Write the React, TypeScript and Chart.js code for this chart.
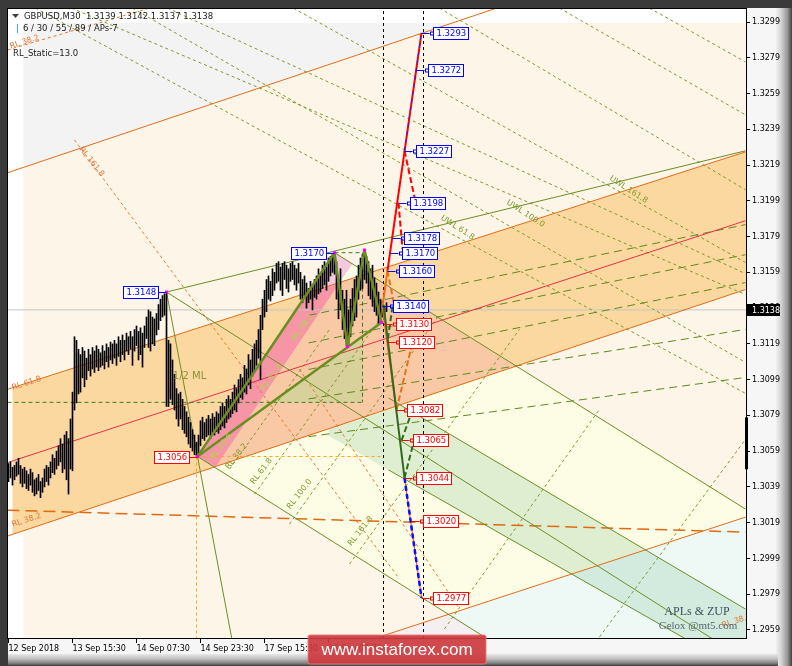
import React, { useEffect, useRef } from 'react';
import { Chart, registerables } from 'chart.js';

Chart.register(...registerables);

type Pt = [number, number];

// ---------------- axis values ----------------
const timeTickIndex = [0, 32, 64, 96, 128, 160];
const timeTickLabels = ['12 Sep 2018', '13 Sep 15:30', '14 Sep 07:30', '14 Sep 23:30', '17 Sep 15:30', '18 Sep 07:30'];
const priceTicks = [1.2959, 1.2979, 1.2999, 1.3019, 1.3039, 1.3059, 1.3079, 1.3099, 1.3119, 1.3139, 1.3159, 1.3179, 1.3199, 1.3219, 1.3239, 1.3259, 1.3279, 1.3299];
const xMin = -0.25;
const xMax = 368.75;
const yMin = 1.29545;
const yMax = 1.33063;

// ---------------- quote ----------------
const symbol = 'GBPUSD,M30';
const quoteOHLC = [1.3139, 1.3142, 1.3137, 1.3138];
const currentPrice = 1.3138;

// ---------------- M30 bars (pips) ----------------
const barHighPips = [
  13052, 13053, 13050, 13051, 13053, 13055, 13051, 13049, 13050, 13048,
  13046, 13049, 13047, 13043, 13044, 13046, 13042, 13044, 13049, 13051,
  13050, 13053, 13057, 13055, 13059, 13062, 13066, 13063, 13068, 13070,
  13066, 13077, 13092, 13123, 13121, 13116, 13113, 13117, 13115, 13111,
  13116, 13113, 13117, 13115, 13118, 13116, 13114, 13118, 13115, 13119,
  13117, 13120, 13119, 13121, 13119, 13123, 13121, 13124, 13121, 13125,
  13123, 13126, 13123, 13127, 13129, 13126, 13128, 13125, 13129, 13134,
  13138, 13137, 13134, 13133, 13136, 13141, 13144, 13146, 13147, 13148,
  13121, 13119, 13110, 13102, 13094, 13091, 13092, 13088, 13084, 13081,
  13078, 13075, 13071, 13068, 13064, 13068, 13076, 13078, 13075, 13077,
  13079, 13077, 13080, 13078, 13081, 13080, 13084, 13086, 13084, 13088,
  13090, 13088, 13092, 13096, 13094, 13099, 13102, 13100, 13107, 13105,
  13113, 13110, 13116, 13119, 13121, 13127, 13135, 13144, 13149, 13155,
  13157, 13154, 13161, 13159, 13164, 13165, 13162, 13164, 13165, 13163,
  13161, 13164, 13165, 13163, 13161, 13164, 13159, 13155, 13157, 13153,
  13150, 13154, 13152, 13155, 13157, 13161, 13158, 13163, 13165, 13162,
  13167, 13168, 13169, 13170, 13165, 13155, 13161, 13149, 13144, 13149,
  13138, 13144, 13150, 13155, 13157, 13163, 13167, 13169, 13171, 13168,
  13165, 13161, 13163, 13156, 13153, 13148, 13144, 13143, 13140, 13142,
];
const barLowPips = [
  13042, 13044, 13040, 13043, 13045, 13046, 13041, 13039, 13041, 13038,
  13037, 13040, 13036, 13034, 13035, 13037, 13033, 13036, 13039, 13042,
  13040, 13044, 13047, 13046, 13049, 13051, 13053, 13047, 13049, 13043,
  13035, 13049, 13048, 13082, 13086, 13091, 13092, 13100, 13095, 13099,
  13104, 13101, 13105, 13103, 13106, 13104, 13106, 13107, 13105, 13109,
  13106, 13110, 13108, 13111, 13107, 13112, 13109, 13113, 13110, 13115,
  13113, 13116, 13107, 13115, 13118, 13110, 13113, 13106, 13117, 13122,
  13117, 13115, 13119, 13118, 13124, 13127, 13132, 13134, 13135, 13084,
  13084, 13088, 13085, 13082, 13077, 13073, 13077, 13071, 13069, 13067,
  13063, 13061, 13059, 13057, 13056, 13058, 13062, 13066, 13065, 13067,
  13068, 13066, 13069, 13068, 13070, 13069, 13071, 13073, 13072, 13075,
  13077, 13078, 13080, 13082, 13081, 13086, 13089, 13088, 13092, 13091,
  13096, 13094, 13101, 13104, 13107, 13111, 13099, 13127, 13134, 13137,
  13144, 13143, 13146, 13149, 13153, 13154, 13149, 13146, 13155, 13150,
  13148, 13154, 13155, 13152, 13149, 13153, 13144, 13142, 13146, 13139,
  13142, 13144, 13138, 13145, 13144, 13147, 13148, 13150, 13152, 13149,
  13154, 13157, 13159, 13158, 13144, 13133, 13138, 13127, 13122, 13118,
  13118, 13123, 13129, 13132, 13134, 13144, 13149, 13150, 13155, 13153,
  13146, 13144, 13140, 13137, 13135, 13130, 13131, 13134, 13135, 13137,
];

// ---------------- swing pivots (bar index, price) ----------------
const pivotA: Pt = [79, 1.3148];
const pivotB: Pt = [94.5, 1.3056];
const pivotC: Pt = [163, 1.317];
const pivotD: Pt = [169.5, 1.31175];
const pivotE: Pt = [178, 1.31715];
const pivotF: Pt = [186.5, 1.3131];

// ---------------- channel lines ----------------
const channelTop: Pt[] = [[-0.5, 1.32147], [244, 1.33068]];
const bandUpper: Pt[] = [[-0.5, 1.30936], [368.5, 1.32264]];
const bandMid: Pt[] = [[-0.5, 1.30526], [368.5, 1.31879]];
const bandLower: Pt[] = [[-0.5, 1.30115], [368.5, 1.31494]];
const channelBottom: Pt[] = [[185.5, 1.29551], [368.5, 1.30221]];
const level382: Pt[] = [[-0.5, 1.3026], [368.5, 1.30137]];

// ---------------- pitchfork ----------------
const handleLine: Pt[] = [pivotA, [368.5, 1.3227]];
const handleDrop: Pt[] = [pivotA, pivotB];
const medianLine: Pt[] = [pivotA, [368.5, 1.29423]];
const upperTine: Pt[] = [pivotC, [368.5, 1.30266]];
const lowerTine: Pt[] = [pivotB, [368.5, 1.28633]];
const warnUpper: Pt[] = [[205.5, 1.30785], [368.5, 1.29707]];
const warnLower: Pt[] = [[195.5, 1.3045], [368.5, 1.2935]];
const boxLow = 1.30863;
const boxRightT = 177;

// ---------------- fan / reaction lines ----------------
const fanUpper: Pt[][] = [
  [[13.5, 1.33068], [368.5, 1.30913]],
  [[31.5, 1.33068], [368.5, 1.31466]],
  [[62, 1.33068], [368.5, 1.31086]],
  [[79.5, 1.33068], [368.5, 1.31583]],
  [[142.5, 1.33068], [368.5, 1.31645]],
  [[215.5, 1.33068], [368.5, 1.32052]],
  [[275.5, 1.33068], [368.5, 1.32471]],
  [[320.5, 1.33068], [368.5, 1.32767]],
];
const fanBand: Pt[][] = [
  [[195.5, 1.31455], [368.5, 1.31857]],
  [[195.5, 1.31298], [368.5, 1.31689]],
  [[195.5, 1.31148], [368.5, 1.31533]],
  [[195.5, 1.30963], [368.5, 1.31271]],
  [[195.5, 1.3074], [368.5, 1.31002]],
];
const fanSteep: Pt[][] = [
  [[110.5, 1.30489], [160.5, 1.31271]],
  [[123, 1.30349], [185.5, 1.31326]],
  [[140.5, 1.30182], [215.5, 1.31354]],
  [[170.5, 1.29959], [255.5, 1.31271]],
  [[218, 1.29596], [295.5, 1.30824]],
  [[295.5, 1.29551], [368.5, 1.30656]],
];
const fanOrange: Pt[][] = [
  [[33, 1.32331], [195.5, 1.29875]],
  [[145.5, 1.31047], [225.5, 1.29707]],
  [[-0.5, 1.32834], [70.5, 1.33068]],
];

// ---------------- ZUP projection levels ----------------
const projTimes = [206.5, 204, 198, 195, 192, 191, 189.5, 187, 188, 189.5, 194, 196.5, 198, 201.5, 206.5];
const projPrices = [1.3293, 1.3272, 1.3227, 1.3198, 1.3178, 1.317, 1.316, 1.314, 1.313, 1.312, 1.3082, 1.3065, 1.3044, 1.302, 1.2977];
const sessionMarks = [187.5, 207.5];

const P = (price: number): Pt => [projTimes[projPrices.indexOf(price)], price];

const swingOrange: Pt[][] = [[P(1.314), P(1.316)], [P(1.314), P(1.3082)]];
const swingOrangeDash: Pt[][] = [[P(1.316), [193, 1.314]], [P(1.3082), [202, 1.312]]];
const swingGreen: Pt[][] = [[[187.5, 1.3141], P(1.3044)]];
const swingGreenDash: Pt[][] = [[P(1.3065), [202, 1.3082]], [P(1.3044), [203, 1.3066]], [[192, 1.314], P(1.312)]];
const swingRed: Pt[][] = [[P(1.316), P(1.3293)]];
const swingRedDash: Pt[][] = [[P(1.3227), [203, 1.3201]], [P(1.3198), [197, 1.3172]]];
const swingBlue: Pt[][] = [[P(1.3044), P(1.2977)]];

// ---------------- annotations ----------------
const notes = [
  { text: 'UWL 61.8', t: 224.5, p: 1.3184, angle: 33, color: '#7d9a2c' },
  { text: 'UWL 100.0', t: 258.5, p: 1.31918, angle: 33, color: '#7d9a2c' },
  { text: 'UWL 161.8', t: 310, p: 1.32052, angle: 33, color: '#7d9a2c' },
  { text: 'RL 38.2', t: 114, p: 1.30561, angle: -52, color: '#7d9a2c' },
  { text: 'RL 61.8', t: 126.5, p: 1.30478, angle: -52, color: '#7d9a2c' },
  { text: 'RL 100.0', t: 145.5, p: 1.30349, angle: -52, color: '#7d9a2c' },
  { text: 'RL 161.8', t: 176, p: 1.30143, angle: -52, color: '#7d9a2c' },
  { text: 'RL 23.6', t: 106.5, p: 1.30617, angle: -52, color: '#b2d846' },
  { text: 'RL 61.8', t: 131.5, p: 1.31002, angle: -52, color: '#b2d846' },
  { text: 'RL 38.2', t: 147, p: 1.31282, angle: -52, color: '#b2d846' },
  { text: 'RL 161.8', t: 41.5, p: 1.32208, angle: 52, color: '#e0783a' },
  { text: 'RL 61.8', t: 9, p: 1.30969, angle: -18, color: '#e0783a' },
  { text: 'RL 38.2', t: 9, p: 1.30204, angle: -18, color: '#e0783a' },
  { text: 'RL 38.2', t: 8, p: 1.32878, angle: -18, color: '#e0783a' },
  { text: 'RL 38.2', t: 364, p: 1.2964, angle: -18, color: '#e0783a' },
];
const halfML = { text: '1/2 ML', t: 90.5, p: 1.31008 };
const pivotLabels: { pt: Pt; color: string }[] = [
  { pt: pivotA, color: '#0000ff' },
  { pt: pivotC, color: '#0000ff' },
  { pt: pivotB, color: '#ff0000' },
];
const edgeBar: Pt = [1.30779, 1.30489];

const COLORS = {
  cream: '#fdf5e8',
  gray: '#f3f3f3',
  yellow: '#fdfde5',
  cyan: '#eef9f6',
  lavender: '#f6eff1',
  green: 'rgba(120,185,140,0.22)',
  band: '#fbd89f',
  salmon: '#f9c9a6',
  pinkLight: '#f4c8df',
  pinkDeep: '#f595a6',
  khaki: '#d9d19c',
  olive: '#6b8e23',
  orange: '#e36c17',
};

const at = (l: Pt[], t: number) => l[0][1] + ((l[1][1] - l[0][1]) * (t - l[0][0])) / (l[1][0] - l[0][0]);
const span = (l: Pt[], t0: number, t1: number): Pt[] => [[t0, at(l, t0)], [t1, at(l, t1)]];
const between = (a: Pt[], b: Pt[], t0: number, t1: number): Pt[] => [[t0, at(a, t0)], [t1, at(a, t1)], [t1, at(b, t1)], [t0, at(b, t0)]];
const sky: Pt[] = [[0, 1.4], [1, 1.4]];
const ground: Pt[] = [[0, 1.25], [1, 1.25]];
const shadeStart: Pt = [7.5, 1.32985];
const bandStartT = 2;

export default function App() {
  const ref = useRef<HTMLCanvasElement>(null);

  useEffect(() => {
    document.body.style.margin = '0';
    document.body.style.overflow = 'hidden';

    const datasets: any[] = [];
    const addLine = (pts: Pt[], color: string, width: number, dash: number[] = []) =>
      datasets.push({
        type: 'line',
        data: pts.map(([x, y]) => ({ x, y })),
        borderColor: color,
        borderWidth: width,
        borderDash: dash,
        pointRadius: 0,
        pointHoverRadius: 0,
        fill: false,
        tension: 0,
        borderCapStyle: 'butt',
      });

    addLine([[xMin, currentPrice], [xMax, currentPrice]], '#c4c4c4', 1);
    fanOrange.forEach((l) => addLine(l, '#e8782a', 1, [3, 3]));
    fanUpper.forEach((l) => addLine(l, '#7a9a28', 1, [3, 3]));
    fanSteep.forEach((l) => addLine(l, '#7a9a28', 1, [3, 3]));
    fanBand.forEach((l) => addLine(span(l, 150, 368.5), '#5f8a1e', 1, [8, 5]));

    addLine(span(channelTop, -0.5, 260), COLORS.orange, 1);
    addLine(span(bandUpper, -0.5, 368.5), COLORS.orange, 1);
    addLine(span(bandLower, -0.5, 368.5), COLORS.orange, 1);
    addLine(span(bandMid, -0.5, 368.5), '#e8304a', 1);
    addLine(span(channelBottom, 185.5, 368.5), COLORS.orange, 1);
    addLine(span(level382, -0.5, 368.5), '#e06a10', 1.5, [12, 6]);

    addLine(span(handleLine, pivotA[0], 368.5), COLORS.olive, 1);
    addLine(span(handleDrop, pivotA[0], 112), COLORS.olive, 1);
    addLine(span(medianLine, pivotA[0], 368.5), COLORS.olive, 1);
    addLine(span(upperTine, pivotC[0], 368.5), COLORS.olive, 1);
    addLine(span(lowerTine, pivotB[0], 368.5), COLORS.olive, 1);
    addLine(span(warnUpper, 190, 368.5), COLORS.olive, 1);
    addLine(span(warnLower, 190, 368.5), COLORS.olive, 1);

    addLine([[-0.5, boxLow], [boxRightT, boxLow]], '#3c7c1c', 1, [4, 3]);
    addLine([[boxRightT, pivotC[1]], [boxRightT, boxLow]], '#3c7c1c', 1, [4, 3]);
    addLine([[pivotC[0], pivotC[1]], [boxRightT, pivotC[1]]], '#3c7c1c', 1, [4, 3]);

    addLine([pivotB, [187, pivotB[1]]], '#ffa31a', 1, [3, 3]);
    addLine([[94, pivotB[1]], [94, yMin]], '#ffa31a', 1, [3, 3]);

    datasets.push({
      type: 'bar',
      data: barHighPips.map((h, i) => ({ x: i, y: [barLowPips[i] / 10000, h / 10000] })),
      backgroundColor: '#000000',
      borderWidth: 0,
      barThickness: 1,
      grouped: false,
    });

    [[pivotB, pivotC], [pivotC, pivotD], [pivotD, pivotE], [pivotE, pivotF], [pivotB, pivotF]].forEach((s) =>
      addLine(s as Pt[], COLORS.olive, 2.5)
    );

    sessionMarks.forEach((t) => addLine([[t, yMin], [t, yMax]], '#000000', 1, [3, 3]));

    swingOrange.forEach((l) => addLine(l, '#e8701a', 2));
    swingOrangeDash.forEach((l) => addLine(l, '#e8701a', 2, [6, 3]));
    swingGreen.forEach((l) => addLine(l, '#2f6b1f', 2));
    swingGreenDash.forEach((l) => addLine(l, '#2f6b1f', 2, [6, 3]));
    swingRed.forEach((l) => addLine(l, '#ff0000', 2));
    swingRedDash.forEach((l) => addLine(l, '#ff0000', 2, [6, 3]));
    addLine([P(1.3227), P(1.3293)], '#2020ff', 1, [4, 4]);
    swingBlue.forEach((l) => addLine(l, '#ff3040', 1));
    swingBlue.forEach((l) => addLine(l, '#0a0aff', 2.5, [5, 3]));

    datasets.forEach((d, i) => (d.order = -i));

    const fillsPlugin = {
      id: 'fills',
      beforeDraw(chart: any) {
        const { ctx, width, height } = chart;
        ctx.save();
        ctx.fillStyle = '#f6f6f6';
        ctx.fillRect(0, 0, width, height);
        ctx.fillStyle = '#3a3a3a';
        ctx.fillRect(0, 0, width, 8);
        ctx.fillRect(0, 0, 8, height);
        let g = ctx.createLinearGradient(776, 0, 792, 0);
        g.addColorStop(0, '#f0f0f0');
        g.addColorStop(0.3, '#d6d6d6');
        g.addColorStop(0.7, '#9a9a9a');
        g.addColorStop(1, '#404040');
        ctx.fillStyle = g;
        ctx.fillRect(776, 8, 16, height - 8);
        g = ctx.createLinearGradient(0, 654, 0, 666);
        g.addColorStop(0, '#e8e8e8');
        g.addColorStop(0.4, '#c0c0c0');
        g.addColorStop(0.8, '#7a7a7a');
        g.addColorStop(1, '#3a3a3a');
        ctx.fillStyle = g;
        ctx.fillRect(8, 654, 770, 12);
        ctx.restore();
      },
      beforeDatasetsDraw(chart: any) {
        const { ctx, chartArea: a, scales } = chart;
        const X = (t: number) => scales.x.getPixelForValue(t);
        const Y = (p: number) => scales.y.getPixelForValue(p);
        const path = (pts: Pt[]) => {
          ctx.beginPath();
          pts.forEach(([t, p], i) => (i ? ctx.lineTo(X(t), Y(p)) : ctx.moveTo(X(t), Y(p))));
          ctx.closePath();
        };
        const fill = (pts: Pt[], c: string) => {
          path(pts);
          ctx.fillStyle = c;
          ctx.fill();
        };
        ctx.save();
        ctx.beginPath();
        ctx.rect(a.left, a.top, a.right - a.left, a.bottom - a.top);
        ctx.clip();
        ctx.fillStyle = '#ffffff';
        ctx.fillRect(a.left, a.top, a.right - a.left, a.bottom - a.top);

        const x0 = X(shadeStart[0]);
        const y0 = Y(shadeStart[1]);
        ctx.fillStyle = COLORS.cream;
        ctx.fillRect(x0, y0, a.right - x0, a.bottom - y0);
        ctx.save();
        ctx.beginPath();
        ctx.rect(x0, y0, a.right - x0, a.bottom - y0);
        ctx.clip();
        fill(between(channelTop, sky, shadeStart[0], xMax + 2), COLORS.gray);
        ctx.restore();

        const pf: Pt[] = [pivotB, pivotC, [xMax + 2, at(upperTine, xMax + 2)], [xMax + 2, at(lowerTine, xMax + 2)]];
        fill(pf, COLORS.yellow);

        const below = between(channelBottom, ground, 170, xMax + 2);
        fill(below, COLORS.lavender);
        ctx.save();
        path(pf);
        ctx.clip();
        fill(below, COLORS.cyan);
        ctx.restore();

        fill(between(warnUpper, warnLower, 160, xMax + 2), COLORS.green);

        const band = between(bandUpper, bandLower, bandStartT, xMax + 2);
        fill(band, COLORS.band);
        ctx.save();
        path(pf);
        ctx.clip();
        fill(band, COLORS.salmon);
        ctx.restore();

        const off: Pt = [9, -0.0006];
        const strip: Pt[] = [pivotB, pivotC, [pivotC[0] + off[0], pivotC[1] + off[1]], [pivotB[0] + off[0], pivotB[1] + off[1]]];
        fill(strip, COLORS.pinkLight);
        ctx.save();
        path(band);
        ctx.clip();
        fill(strip, COLORS.pinkDeep);
        ctx.restore();

        const bf: Pt[] = [pivotB, pivotF];
        const tK = pivotB[0] + ((boxLow - pivotB[1]) / (pivotF[1] - pivotB[1])) * (pivotF[0] - pivotB[0]);
        fill([[tK, boxLow], [boxRightT, boxLow], [boxRightT, at(bf, boxRightT)]], COLORS.khaki);
        ctx.restore();
      },
      afterDatasetsDraw(chart: any) {
        const { ctx, chartArea: a, scales } = chart;
        const X = (t: number) => scales.x.getPixelForValue(t);
        const Y = (p: number) => scales.y.getPixelForValue(p);
        ctx.save();
        ctx.beginPath();
        ctx.rect(a.left, a.top, a.right - a.left, a.bottom - a.top);
        ctx.clip();

        notes.forEach((n) => {
          ctx.save();
          ctx.translate(X(n.t), Y(n.p));
          ctx.rotate((n.angle * Math.PI) / 180);
          ctx.font = '8px "DejaVu Sans"';
          ctx.fillStyle = n.color;
          ctx.textAlign = 'center';
          ctx.textBaseline = 'middle';
          ctx.fillText(n.text, 0, 0);
          ctx.restore();
        });
        ctx.font = '10px "DejaVu Sans"';
        ctx.fillStyle = 'rgba(110,140,40,0.85)';
        ctx.textAlign = 'center';
        ctx.textBaseline = 'middle';
        ctx.fillText(halfML.text, X(halfML.t), Y(halfML.p));

        ctx.fillStyle = '#ff00ff';
        [pivotA, pivotB, pivotC, pivotD, pivotE, pivotF].forEach(([t, p]) => ctx.fillRect(X(t) - 1.5, Y(p) - 1.5, 3, 3));

        const drawBox = (t: number, p: number, color: string, side: 'left' | 'right') => {
          const text = p.toFixed(4);
          ctx.font = '8.5px "DejaVu Sans"';
          const w = Math.ceil(ctx.measureText(text).width) + 5;
          const h = 12;
          const vx = X(t);
          const vy = Math.round(Y(p)) + 0.5;
          ctx.strokeStyle = color;
          ctx.lineWidth = 1;
          ctx.setLineDash([]);
          let bx: number;
          if (side === 'right') {
            ctx.beginPath();
            ctx.moveTo(vx, vy);
            ctx.lineTo(vx + 8, vy);
            ctx.stroke();
            ctx.strokeRect(Math.round(vx + 8) + 0.5, vy - 1.5, 3, 3);
            bx = Math.round(vx + 11) + 0.5;
          } else {
            bx = Math.round(vx - 9 - w) + 0.5;
            ctx.beginPath();
            ctx.moveTo(bx + w, vy);
            ctx.lineTo(vx, vy);
            ctx.stroke();
          }
          ctx.fillStyle = '#ffffff';
          ctx.fillRect(bx, vy - 6, w, h);
          ctx.strokeRect(bx, vy - 6, w, h);
          ctx.fillStyle = color;
          ctx.textAlign = 'left';
          ctx.textBaseline = 'middle';
          ctx.fillText(text, bx + 3, vy + 0.5);
        };
        projPrices.forEach((p, i) => drawBox(projTimes[i], p, p > currentPrice ? '#0000ff' : '#ff0000', 'right'));
        pivotLabels.forEach((l) => drawBox(l.pt[0], l.pt[1], l.color, 'left'));

        ctx.textAlign = 'center';
        ctx.textBaseline = 'middle';
        ctx.font = '12px "Liberation Serif"';
        ctx.fillStyle = '#3d4f5c';
        ctx.fillText('APLs & ZUP', 697, 612);
        ctx.font = '11px "Liberation Serif"';
        ctx.fillStyle = '#55656d';
        ctx.fillText('Gelox @mt5.com', 698, 626);

        ctx.textAlign = 'left';
        ctx.fillStyle = '#404040';
        ctx.beginPath();
        ctx.moveTo(12, 14);
        ctx.lineTo(19, 14);
        ctx.lineTo(15.5, 18);
        ctx.closePath();
        ctx.fill();
        ctx.font = '8.5px "DejaVu Sans"';
        ctx.fillStyle = '#1a1a1a';
        ctx.fillText(`${symbol}  ${quoteOHLC.map((v) => v.toFixed(4)).join(' ')}`, 24, 16.5);
        ctx.fillStyle = '#3cb6e8';
        ctx.fillRect(17, 24, 1, 9);
        ctx.fillStyle = '#1a1a1a';
        ctx.fillText('6 / 30 / 55 / 89 / APs-7', 23, 28.5);
        ctx.fillText('RL_Static=13.0', 13, 53.5);
        ctx.restore();
      },
      afterDraw(chart: any) {
        const { ctx, chartArea: a, scales } = chart;
        const Y = (p: number) => scales.y.getPixelForValue(p);
        ctx.save();
        ctx.strokeStyle = '#000000';
        ctx.lineWidth = 1;
        ctx.strokeRect(a.left - 0.5, a.top - 0.5, a.right - a.left + 1, a.bottom - a.top + 1);
        ctx.fillStyle = '#000000';
        ctx.fillRect(a.right - 1, Y(edgeBar[0]), 3, Y(edgeBar[1]) - Y(edgeBar[0]));
        const cy = Math.round(Y(currentPrice));
        ctx.fillRect(a.right + 1, cy - 6, 33, 12);
        ctx.fillStyle = '#ffffff';
        ctx.font = '8px "DejaVu Sans"';
        ctx.textAlign = 'left';
        ctx.textBaseline = 'middle';
        ctx.fillText(currentPrice.toFixed(4), a.right + 6, cy + 0.5);

        ctx.fillStyle = 'rgba(204,58,62,0.92)';
        ctx.beginPath();
        ctx.roundRect(308, 635, 178, 29, 2);
        ctx.fill();
        ctx.strokeStyle = 'rgba(235,120,120,0.9)';
        ctx.stroke();
        ctx.fillStyle = '#ffffff';
        ctx.font = '17px "Liberation Sans"';
        ctx.textAlign = 'center';
        ctx.fillText('www.instaforex.com', 397, 650);
        ctx.restore();
      },
    };

    const tickFont = { family: 'DejaVu Sans', size: 8 };
    const chart = new Chart(ref.current as HTMLCanvasElement, {
      type: 'line',
      data: { datasets },
      options: {
        animation: false,
        responsive: false,
        devicePixelRatio: 1,
        events: [],
        layout: { padding: { left: 8, top: 9, right: 0, bottom: 0 } },
        plugins: { legend: { display: false }, tooltip: { enabled: false } },
        scales: {
          x: {
            type: 'linear',
            min: xMin,
            max: xMax,
            offset: false,
            afterFit: (s: any) => {
              s.height = 28;
            },
            afterBuildTicks: (s: any) => {
              s.ticks = timeTickIndex.map((v) => ({ value: v }));
            },
            grid: { drawOnChartArea: false, drawTicks: true, tickLength: 5, color: '#000000', offset: false },
            border: { display: false },
            ticks: {
              autoSkip: false,
              maxRotation: 0,
              align: 'start',
              padding: 1,
              color: '#000000',
              font: tickFont,
              callback: (v: any) => timeTickLabels[timeTickIndex.indexOf(Number(v))] ?? '',
            },
          },
          y: {
            type: 'linear',
            position: 'right',
            min: yMin,
            max: yMax,
            afterFit: (s: any) => {
              s.width = 46;
            },
            afterBuildTicks: (s: any) => {
              s.ticks = priceTicks.map((v) => ({ value: v }));
            },
            grid: { drawOnChartArea: false, drawTicks: true, tickLength: 4, color: '#000000' },
            border: { display: false },
            ticks: {
              autoSkip: false,
              padding: 2,
              color: '#000000',
              font: tickFont,
              callback: (v: any) => Number(v).toFixed(4),
            },
          },
        },
      } as any,
      plugins: [fillsPlugin],
    } as any);
    return () => chart.destroy();
  }, []);

  return <canvas ref={ref} width={792} height={666} style={{ display: 'block', width: 792, height: 666 }} />;
}
